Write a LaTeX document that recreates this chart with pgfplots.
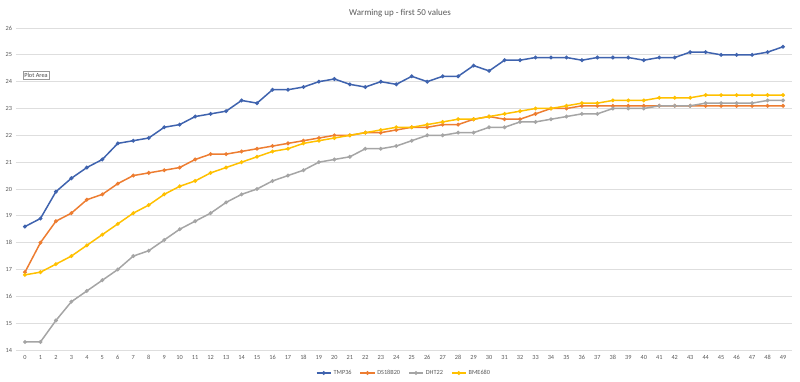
\documentclass[border=0pt]{standalone}
\usepackage{pgfplots}
\pgfplotsset{compat=1.18}
\usepackage{pgfplotstable}
\usetikzlibrary{shadows}
\usepackage{fontspec}
\setmainfont{Carlito}
\definecolor{cBlue}{HTML}{3F63AE}
\definecolor{cOrange}{HTML}{ED7D31}
\definecolor{cGray}{HTML}{A5A5A5}
\definecolor{cYellow}{HTML}{FFC000}
\definecolor{cText}{HTML}{595959}
\definecolor{cGrid}{HTML}{DEDEDE}

\pgfplotstableread{
x TMP DS DHT BME
0 18.6 16.9 14.3 16.8
1 18.9 18.0 14.3 16.9
2 19.9 18.8 15.1 17.2
3 20.4 19.1 15.8 17.5
4 20.8 19.6 16.2 17.9
5 21.1 19.8 16.6 18.3
6 21.7 20.2 17.0 18.7
7 21.8 20.5 17.5 19.1
8 21.9 20.6 17.7 19.4
9 22.3 20.7 18.1 19.8
10 22.4 20.8 18.5 20.1
11 22.7 21.1 18.8 20.3
12 22.8 21.3 19.1 20.6
13 22.9 21.3 19.5 20.8
14 23.3 21.4 19.8 21.0
15 23.2 21.5 20.0 21.2
16 23.7 21.6 20.3 21.4
17 23.7 21.7 20.5 21.5
18 23.8 21.8 20.7 21.7
19 24.0 21.9 21.0 21.8
20 24.1 22.0 21.1 21.9
21 23.9 22.0 21.2 22.0
22 23.8 22.1 21.5 22.1
23 24.0 22.1 21.5 22.2
24 23.9 22.2 21.6 22.3
25 24.2 22.3 21.8 22.3
26 24.0 22.3 22.0 22.4
27 24.2 22.4 22.0 22.5
28 24.2 22.4 22.1 22.6
29 24.6 22.6 22.1 22.6
30 24.4 22.7 22.3 22.7
31 24.8 22.6 22.3 22.8
32 24.8 22.6 22.5 22.9
33 24.9 22.8 22.5 23.0
34 24.9 23.0 22.6 23.0
35 24.9 23.0 22.7 23.1
36 24.8 23.1 22.8 23.2
37 24.9 23.1 22.8 23.2
38 24.9 23.1 23.0 23.3
39 24.9 23.1 23.0 23.3
40 24.8 23.1 23.0 23.3
41 24.9 23.1 23.1 23.4
42 24.9 23.1 23.1 23.4
43 25.1 23.1 23.1 23.4
44 25.1 23.1 23.2 23.5
45 25.0 23.1 23.2 23.5
46 25.0 23.1 23.2 23.5
47 25.0 23.1 23.2 23.5
48 25.1 23.1 23.3 23.5
49 25.3 23.1 23.3 23.5
}\datatable

\begin{document}
\begin{tikzpicture}
\path[use as bounding box] (0,0) rectangle (800bp,382bp);
\begin{axis}[
  at={(16bp,32bp)}, anchor=south west,
  scale only axis, width=776bp, height=322bp,
  xmin=-0.58, xmax=49.58, ymin=14, ymax=26,
  xtick={0,...,49}, ytick={14,...,26},
  axis line style={draw=none},
  major tick length=0pt,
  ymajorgrids, grid style={cGrid, line width=0.9bp},
  tick label style={font=\fontsize{6.3}{7}\selectfont, text=cText},
  /pgf/number format/assume math mode=true,
  yticklabel style={xshift=-0.5bp},
  xticklabel style={yshift=-2bp},
  every axis plot/.append style={line width=1.5bp, mark=*, mark size=1.1bp},
  legend style={at={(axis description cs:0.5,-0.0715)}, anchor=center,
    draw=none, fill=none, legend columns=4,
    font=\fontsize{6.3}{7}\selectfont\color{cText},
    /tikz/every even column/.append style={column sep=6bp}},
  legend image code/.code={
    \draw[#1, mark=none] (0cm,0cm) -- (0.5cm,0cm);
    \path[#1, only marks] plot coordinates {(0.25cm,0cm)};
  },
]
\addplot[cBlue, mark options={fill=cBlue}] table[x=x, y=TMP] {\datatable};
\addlegendentry{TMP36}
\addplot[cOrange, mark options={fill=cOrange}] table[x=x, y=DS] {\datatable};
\addlegendentry{DS18B20}
\addplot[cGray, mark options={fill=cGray}] table[x=x, y=DHT] {\datatable};
\addlegendentry{DHT22}
\addplot[cYellow, mark options={fill=cYellow}] table[x=x, y=BME] {\datatable};
\addlegendentry{BME680}
\end{axis}
\node[text=cText, font=\fontsize{9}{10}\selectfont] at (400bp,369bp) {Warming up - first 50 values};
\node[draw=gray!80, fill=white, inner sep=1.6bp, font=\fontsize{6.3}{7}\selectfont, text=black!70,
  drop shadow={opacity=0.3, shadow xshift=0.8bp, shadow yshift=-0.8bp}] at (36bp,307bp) {Plot Area};
\end{tikzpicture}
\end{document}
